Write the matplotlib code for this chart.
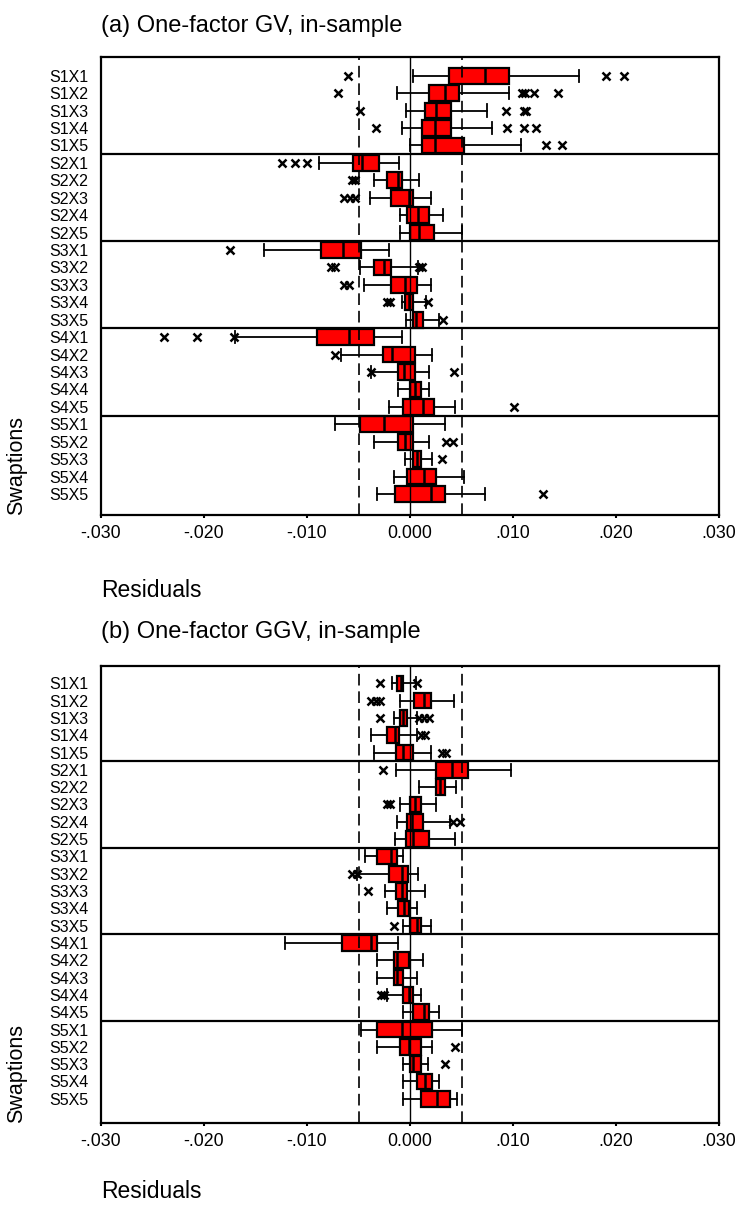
import matplotlib
matplotlib.use("Agg")
import matplotlib.pyplot as plt

plt.rcParams['font.family'] = ['Liberation Sans', 'DejaVu Sans']

swaptions = ["S1X1", "S1X2", "S1X3", "S1X4", "S1X5",
             "S2X1", "S2X2", "S2X3", "S2X4", "S2X5",
             "S3X1", "S3X2", "S3X3", "S3X4", "S3X5",
             "S4X1", "S4X2", "S4X3", "S4X4", "S4X5",
             "S5X1", "S5X2", "S5X3", "S5X4", "S5X5"]

# (a) One-factor GV, in-sample: whisker low, Q1, median, Q3, whisker high, outliers
gv_lo = [0.0003, -0.0013, -0.0004, -0.0008, 0.0000,
         -0.0088, -0.0035, -0.0039, -0.0010, -0.0010,
         -0.0142, -0.0049, -0.0045, -0.0008, -0.0004,
         -0.0170, -0.0067, -0.0038, -0.0012, -0.0020,
         -0.0073, -0.0035, -0.0005, -0.0016, -0.0032]
gv_q1 = [0.0038, 0.0018, 0.0015, 0.0012, 0.0012,
         -0.0055, -0.0022, -0.0018, -0.0003, 0.0000,
         -0.0086, -0.0035, -0.0018, -0.0005, 0.0003,
         -0.0090, -0.0026, -0.0012, 0.0000, -0.0007,
         -0.0049, -0.0012, 0.0003, -0.0003, -0.0015]
gv_med = [0.0073, 0.0034, 0.0025, 0.0024, 0.0024,
          -0.0047, -0.0012, -0.0001, 0.0008, 0.0009,
          -0.0065, -0.0025, -0.0005, -0.0001, 0.0006,
          -0.0059, -0.0017, -0.0006, 0.0005, 0.0013,
          -0.0025, -0.0005, 0.0007, 0.0014, 0.0020]
gv_q3 = [0.0096, 0.0048, 0.0040, 0.0040, 0.0052,
         -0.0030, -0.0008, 0.0003, 0.0018, 0.0023,
         -0.0048, -0.0018, 0.0007, 0.0003, 0.0013,
         -0.0035, 0.0005, 0.0005, 0.0011, 0.0023,
         0.0003, 0.0003, 0.0011, 0.0025, 0.0034]
gv_hi = [0.0164, 0.0096, 0.0075, 0.0080, 0.0108,
         -0.0011, 0.0009, 0.0020, 0.0032, 0.0050,
         -0.0020, 0.0008, 0.0020, 0.0016, 0.0028,
         -0.0008, 0.0021, 0.0018, 0.0018, 0.0044,
         0.0034, 0.0018, 0.0021, 0.0052, 0.0073]
gv_out = [[-0.0060, 0.0190, 0.0208], [-0.0070, 0.0109, 0.0112, 0.0120, 0.0144],
          [-0.0049, 0.0093, 0.0111, 0.0113], [-0.0033, 0.0094, 0.0111, 0.0122],
          [0.0132, 0.0148],
          [-0.0124, -0.0112, -0.0100], [-0.0056, -0.0053], [-0.0064, -0.0058, -0.0053], [], [],
          [-0.0175], [-0.0077, -0.0073, 0.0009, 0.0012], [-0.0064, -0.0059],
          [-0.0022, -0.0019, 0.0017], [0.0032],
          [-0.0239, -0.0207, -0.0171], [-0.0073], [-0.0038, 0.0043], [], [0.0101],
          [], [0.0035, 0.0042], [0.0031], [], [0.0129]]

# (b) One-factor GGV, in-sample
ggv_lo = [-0.0017, -0.0010, -0.0016, -0.0038, -0.0035,
          -0.0014, 0.0009, -0.0010, -0.0013, -0.0015,
          -0.0044, -0.0051, -0.0024, -0.0022, -0.0007,
          -0.0121, -0.0032, -0.0032, -0.0022, -0.0007,
          -0.0048, -0.0032, -0.0007, -0.0007, -0.0007]
ggv_q1 = [-0.0013, 0.0004, -0.0010, -0.0022, -0.0014,
          0.0025, 0.0025, 0.0000, -0.0003, -0.0004,
          -0.0032, -0.0020, -0.0014, -0.0012, 0.0000,
          -0.0066, -0.0016, -0.0016, -0.0007, 0.0003,
          -0.0032, -0.0010, 0.0000, 0.0007, 0.0011]
ggv_med = [-0.0009, 0.0014, -0.0007, -0.0015, -0.0007,
           0.0041, 0.0029, 0.0005, 0.0002, 0.0003,
           -0.0018, -0.0008, -0.0008, -0.0006, 0.0007,
           -0.0038, -0.0013, -0.0013, -0.0001, 0.0014,
           -0.0008, -0.0001, 0.0003, 0.0015, 0.0026]
ggv_q3 = [-0.0007, 0.0020, -0.0003, -0.0011, 0.0003,
          0.0056, 0.0034, 0.0011, 0.0013, 0.0018,
          -0.0013, -0.0002, -0.0003, -0.0001, 0.0011,
          -0.0032, -0.0001, -0.0007, 0.0003, 0.0018,
          0.0021, 0.0011, 0.0011, 0.0021, 0.0039]
ggv_hi = [0.0006, 0.0043, 0.0007, 0.0007, 0.0020,
          0.0098, 0.0045, 0.0025, 0.0039, 0.0044,
          -0.0007, 0.0008, 0.0015, 0.0007, 0.0020,
          -0.0012, 0.0013, 0.0007, 0.0011, 0.0028,
          0.0050, 0.0021, 0.0017, 0.0028, 0.0046]
ggv_out = [[-0.0029, 0.0007], [-0.0038, -0.0033, -0.0029], [-0.0029, 0.0009, 0.0014, 0.0018],
           [0.0011, 0.0015], [0.0031, 0.0035],
           [-0.0026], [], [-0.0022, -0.0019], [0.0042, 0.0049], [],
           [], [-0.0056, -0.0051], [-0.0041], [], [-0.0016],
           [], [], [], [-0.0028, -0.0025], [],
           [], [0.0044], [0.0034], [], []]

x_ticks = [-0.03, -0.02, -0.01, 0.0, 0.01, 0.02, 0.03]
x_tick_labels = ["-.030", "-.020", "-.010", "0.000", ".010", ".020", ".030"]


def draw_panel(ax, lo, q1, med, q3, hi, out, title, title_pad, ylim, xlabel_y):
    stats = []
    for i in range(len(swaptions)):
        stats.append(dict(whislo=lo[i], q1=q1[i], med=med[i], q3=q3[i],
                          whishi=hi[i], fliers=out[i], label=swaptions[i]))
    pos = list(range(1, len(swaptions) + 1))
    ax.bxp(stats, positions=pos, widths=0.9, capwidths=0.7,
           orientation='horizontal', patch_artist=True, manage_ticks=False,
           boxprops=dict(facecolor='#ff0000', edgecolor='black', linewidth=1.6),
           medianprops=dict(color='black', linewidth=1.8),
           whiskerprops=dict(color='black', linewidth=1.3),
           capprops=dict(color='black', linewidth=1.3),
           flierprops=dict(marker='x', markersize=6, markeredgewidth=1.8,
                           markeredgecolor='black'))

    ax.axvline(0, color='black', linewidth=1.0, zorder=3)
    for v in (-0.005, 0.005):
        ax.axvline(v, color='black', linewidth=1.2, linestyle=(0, (7, 3.5)), zorder=3)
    for g in (5.5, 10.5, 15.5, 20.5):
        ax.axhline(g, color='black', linewidth=1.6, zorder=3)

    ax.set_xlim(-0.03, 0.03)
    ax.set_ylim(*ylim)
    ax.set_yticks(pos)
    ax.set_yticklabels(swaptions, fontsize=11.5)
    ax.tick_params(axis='y', length=0, pad=9)
    ax.set_xticks(x_ticks)
    ax.set_xticklabels(x_tick_labels, fontsize=12.8)
    ax.tick_params(axis='x', length=2.5, width=1.5, pad=5)
    for s in ax.spines.values():
        s.set_linewidth(1.6)

    ax.set_title(title, loc='left', fontsize=17, pad=title_pad)
    ax.set_xlabel('Residuals', loc='left', fontsize=16.5)
    ax.xaxis.set_label_coords(0, xlabel_y)
    ax.set_ylabel('Swaptions', loc='bottom', fontsize=15.5)
    ax.yaxis.set_label_coords(-0.12, 0)


fig = plt.figure(figsize=(7.36, 12.05), dpi=100)
ax1 = fig.add_axes([101 / 736, 1 - 515 / 1205, 618 / 736, 458 / 1205])
ax2 = fig.add_axes([101 / 736, 1 - 1123 / 1205, 618 / 736, 457 / 1205])

draw_panel(ax1, gv_lo, gv_q1, gv_med, gv_q3, gv_hi, gv_out,
           '(a) One-factor GV, in-sample', 18, (26.2, -0.07), -0.14)
draw_panel(ax2, ggv_lo, ggv_q1, ggv_med, ggv_q3, ggv_hi, ggv_out,
           '(b) One-factor GGV, in-sample', 20, (26.4, 0.0), -0.125)

fig.savefig('out.png', dpi=100)
